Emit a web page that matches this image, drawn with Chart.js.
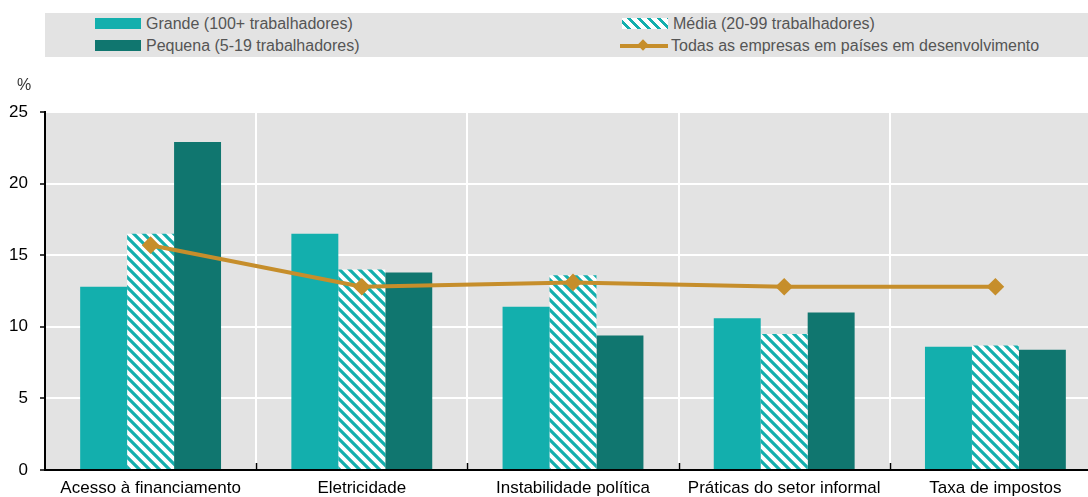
<!DOCTYPE html>
<html>
<head>
<meta charset="utf-8">
<script src="https://cdn.jsdelivr.net/npm/chart.js@4/dist/chart.umd.min.js"></script>
<style>
  html, body { margin: 0; padding: 0; background: #fff; overflow: hidden; width: 1088px; height: 497px; }
  #wrap { position: relative; width: 1111px; height: 497px; }
  #chart { position: absolute; left: 0; top: 0; }
  .legend { position: absolute; left: 45px; top: 13px; width: 1060px; height: 44px; background: #e3e3e3; }
  .item { position: absolute; font-family: "Liberation Sans Narrow", "Arial Narrow", "Liberation Sans", sans-serif; font-size: 16px; color: #555; line-height: 18px; white-space: nowrap; }
  .sw { position: absolute; width: 46px; height: 11px; }
</style>
</head>
<body>
<div id="wrap">
  <canvas id="chart" width="1111" height="497"></canvas>
  <div class="legend" id="legend"></div>
</div>
<script>
// Obstacles reported by firms, by firm size (%)
const categories = ["Acesso à financiamento", "Eletricidade", "Instabilidade política", "Práticas do setor informal", "Taxa de impostos"];
const grande = [12.8, 16.5, 11.4, 10.6, 8.6];
const media = [16.5, 14.0, 13.6, 9.5, 8.7];
const pequena = [22.9, 13.8, 9.4, 11.0, 8.4];
const todas = [15.7, 12.8, 13.1, 12.8, 12.8];
const yTicks = [0, 5, 10, 15, 20, 25];

const seriesNames = {
  grande: "Grande (100+ trabalhadores)",
  media: "Média (20-99 trabalhadores)",
  pequena: "Pequena (5-19 trabalhadores)",
  todas: "Todas as empresas em países em desenvolvimento"
};

const COL_GRANDE = "#13afad";
const COL_PEQUENA = "#10766f";
const COL_LINE = "#c68e2b";
const FONT = "'Liberation Sans Narrow', 'Arial Narrow', 'Liberation Sans', sans-serif";

// Diagonal hatch used for the medium-size series
function hatchPattern() {
  const s = 10;
  const c = document.createElement("canvas");
  c.width = s; c.height = s;
  const g = c.getContext("2d");
  g.fillStyle = "#ffffff";
  g.fillRect(0, 0, s, s);
  g.strokeStyle = COL_GRANDE;
  g.lineWidth = 3.2;
  g.beginPath();
  g.moveTo(-2, -2); g.lineTo(s + 2, s + 2);
  g.moveTo(-2, s - 2); g.lineTo(2, s + 2);
  g.moveTo(s - 2, -2); g.lineTo(s + 2, 2);
  g.stroke();
  return g.createPattern(c, "repeat");
}
const hatch = hatchPattern();

// Legend (two columns, two rows)
const legend = document.getElementById("legend");
function addItem(x, y, swatchCss, label, isLine) {
  const sw = document.createElement("div");
  sw.className = "sw";
  sw.style.left = (x - 45) + "px";
  sw.style.top = (y - 13) + "px";
  if (isLine) {
    sw.style.height = "11px";
    sw.innerHTML = '<div style="position:absolute;left:0;top:4px;width:48px;height:4px;background:' + COL_LINE + '"></div>' +
      '<div style="position:absolute;left:19px;top:1px;width:8px;height:8px;background:' + COL_LINE + ';transform:rotate(45deg)"></div>';
  } else {
    sw.style.background = swatchCss;
  }
  legend.appendChild(sw);
  const t = document.createElement("div");
  t.className = "item";
  t.style.left = (x - 45 + 51) + "px";
  t.style.top = (y - 13 - 3) + "px";
  t.textContent = label;
  legend.appendChild(t);
}
addItem(95, 18, COL_GRANDE, seriesNames.grande);
addItem(95, 40, COL_PEQUENA, seriesNames.pequena);
addItem(622, 18, "repeating-linear-gradient(45deg, #ffffff 0px, #ffffff 4px, " + COL_GRANDE + " 4px, " + COL_GRANDE + " 7px)", seriesNames.media);
addItem(620, 40, null, seriesNames.todas, true);

// Grey plot background, inner ticks on the category axis, unit label
const decor = {
  id: "decor",
  beforeDraw(chart) {
    const { ctx, chartArea: a } = chart;
    ctx.save();
    ctx.fillStyle = "#e3e3e3";
    ctx.fillRect(a.left, a.top, a.right - a.left, a.bottom - a.top);
    ctx.restore();
  },
  afterDraw(chart) {
    const { ctx, chartArea: a } = chart;
    const x = chart.scales.x;
    ctx.save();
    ctx.strokeStyle = "#000";
    ctx.lineWidth = 1.5;
    for (let i = 1; i < categories.length; i++) {
      const px = Math.round((x.getPixelForValue(i - 1) + x.getPixelForValue(i)) / 2) + 0.5;
      ctx.beginPath();
      ctx.moveTo(px, a.bottom);
      ctx.lineTo(px, a.bottom - 7);
      ctx.stroke();
    }
    ctx.fillStyle = "#333";
    ctx.font = "16px " + FONT;
    ctx.textAlign = "center";
    ctx.textBaseline = "middle";
    ctx.fillText("%", 24, 86);
    ctx.restore();
  }
};

new Chart(document.getElementById("chart"), {
  data: {
    labels: categories,
    datasets: [
      { type: "line", label: seriesNames.todas, data: todas, order: 0,
        borderColor: COL_LINE, borderWidth: 4, backgroundColor: COL_LINE,
        pointStyle: "rectRot", pointRadius: 6, pointHoverRadius: 6, tension: 0 },
      { type: "bar", label: seriesNames.grande, data: grande, order: 1, backgroundColor: COL_GRANDE },
      { type: "bar", label: seriesNames.media, data: media, order: 1, backgroundColor: hatch },
      { type: "bar", label: seriesNames.pequena, data: pequena, order: 1, backgroundColor: COL_PEQUENA }
    ]
  },
  options: {
    responsive: false,
    devicePixelRatio: 1,
    animation: false,
    layout: { padding: { top: 112, right: 0, left: 0, bottom: 0 } },
    datasets: { bar: { categoryPercentage: 0.667, barPercentage: 1.0, borderWidth: 0 } },
    plugins: { legend: { display: false }, tooltip: { enabled: false } },
    scales: {
      x: {
        offset: true,
        grid: { offset: true, color: "#ffffff", lineWidth: 2, drawTicks: false },
        border: { color: "#000", width: 2 },
        ticks: { color: "#000", font: { family: FONT, size: 17 }, padding: 8, maxRotation: 0 },
        afterFit(s) { s.height = 27; }
      },
      y: {
        min: 0, max: 25,
        afterBuildTicks(s) { s.ticks = yTicks.map(v => ({ value: v })); },
        grid: { color: "#ffffff", lineWidth: 2, tickColor: "#000", tickLength: 5, tickWidth: 1.5 },
        border: { color: "#000", width: 2 },
        ticks: { color: "#000", font: { family: FONT, size: 17 }, padding: 12 },
        afterFit(s) { s.width = 45; }
      }
    }
  },
  plugins: [decor]
});
</script>
</body>
</html>
